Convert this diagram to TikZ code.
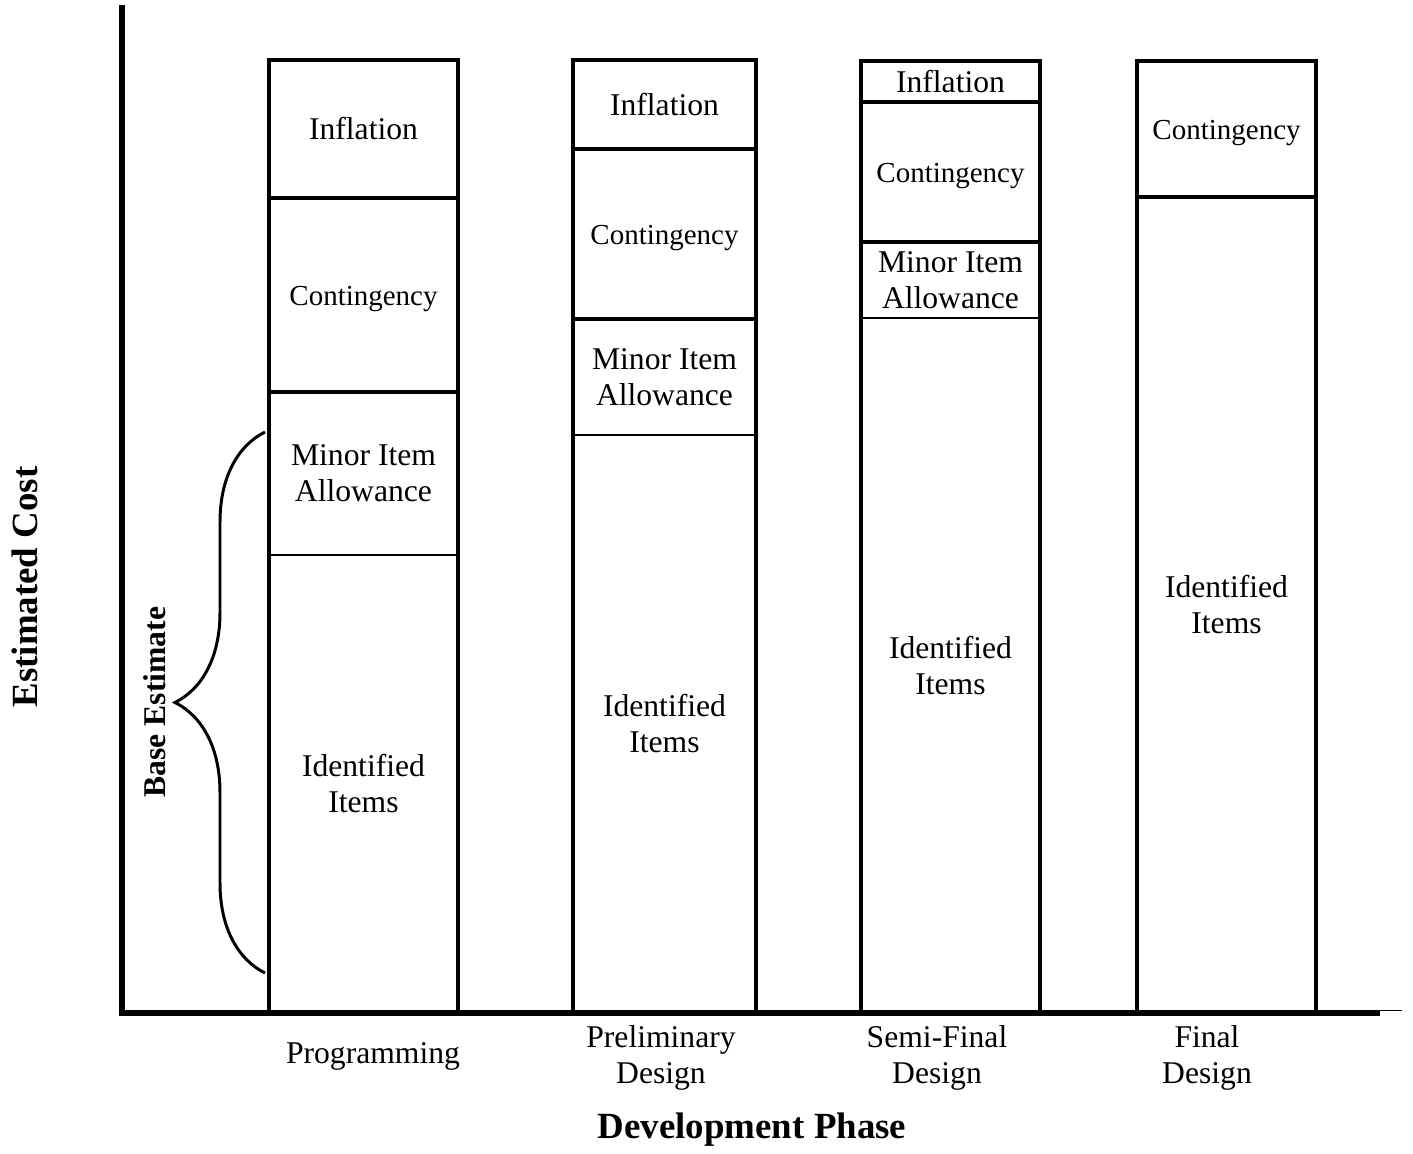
\documentclass[tikz,border=0pt]{standalone}
\usepackage{fontspec}
\setmainfont{Liberation Serif}
\usetikzlibrary{decorations.pathreplacing}

\begin{document}
\begin{tikzpicture}[
    axisline/.style={line width=3.4pt},
    barline/.style={line width=2pt},
    thinline/.style={line width=0.9pt},
    seglabel/.style={align=center, font=\fontsize{18}{20.5}\selectfont},
    contlabel/.style={align=center, font=\fontsize{16.5}{19}\selectfont},
    axislabel/.style={font=\fontsize{21}{24}\selectfont\bfseries}
]
\useasboundingbox (0,0) rectangle (28.26,23.06);

% axes
\draw[axisline] (2.44,22.96) -- (2.44,2.8) -- (27.6,2.8);
\draw[thinline] (27.6,2.85) -- (28.04,2.85);
\node[axislabel, rotate=90] (costLabel) at (0.5,11.32) {Estimated Cost};
\node[axislabel] (phaseLabel) at (15.04,0.46) {Development Phase};

% programming
\draw[barline] (5.38,2.8) -- (5.38,21.86) -- (9.16,21.86) -- (9.16,2.8);
\draw[barline] (5.38,19.10) -- (9.16,19.10);
\draw[barline] (5.38,15.22) -- (9.16,15.22);
\draw[thinline] (5.38,11.96) -- (9.16,11.96);
\node[seglabel] (progInfl) at (7.27,20.48) {Inflation};
\node[contlabel] (progCont) at (7.27,17.08) {Contingency};
\node[seglabel] (progMinor) at (7.27,13.59) {Minor Item\\Allowance};
\node[seglabel] (progIdent) at (7.27,7.38) {Identified\\Items};
\node[seglabel] (progPhase) at (7.46,1.94) {Programming};

% preliminary design
\draw[barline] (11.46,2.8) -- (11.46,21.86) -- (15.12,21.86) -- (15.12,2.8);
\draw[barline] (11.46,20.08) -- (15.12,20.08);
\draw[barline] (11.46,16.68) -- (15.12,16.68);
\draw[thinline] (11.46,14.36) -- (15.12,14.36);
\node[seglabel] (prelInfl) at (13.29,20.97) {Inflation};
\node[contlabel] (prelCont) at (13.29,18.30) {Contingency};
\node[seglabel] (prelMinor) at (13.29,15.52) {Minor Item\\Allowance};
\node[seglabel] (prelIdent) at (13.29,8.58) {Identified\\Items};
\node[seglabel] (prelPhase) at (13.22,1.9) {Preliminary\\Design};

% semi-final design
\draw[barline] (17.22,2.8) -- (17.22,21.84) -- (20.80,21.84) -- (20.80,2.8);
\draw[barline] (17.22,21.02) -- (20.80,21.02);
\draw[barline] (17.22,18.22) -- (20.80,18.22);
\draw[thinline] (17.22,16.70) -- (20.80,16.70);
\node[seglabel] (semiInfl) at (19.01,21.43) {Inflation};
\node[contlabel] (semiCont) at (19.01,19.54) {Contingency};
\node[seglabel] (semiMinor) at (19.01,17.46) {Minor Item\\Allowance};
\node[seglabel] (semiIdent) at (19.01,9.75) {Identified\\Items};
\node[seglabel] (semiPhase) at (18.74,1.9) {Semi-Final\\Design};

% final design
\draw[barline] (22.74,2.8) -- (22.74,21.84) -- (26.32,21.84) -- (26.32,2.8);
\draw[barline] (22.74,19.12) -- (26.32,19.12);
\node[contlabel] (finCont) at (24.53,20.40) {Contingency};
\node[seglabel] (finIdent) at (24.53,10.96) {Identified\\Items};
\node[seglabel] (finPhase) at (24.14,1.9) {Final\\Design};

% base estimate brace
\coordinate (braceBot) at (5.30,3.6);
\coordinate (braceTop) at (5.30,14.42);
\draw[line width=1.7pt, decorate, decoration={brace, amplitude=1.8cm}] (braceBot) -- (braceTop);
\node[seglabel, font=\fontsize{18}{20.5}\selectfont\bfseries, rotate=90] (baseLabel) at (3.1,9.02) {Base Estimate};

\end{tikzpicture}
\end{document}
